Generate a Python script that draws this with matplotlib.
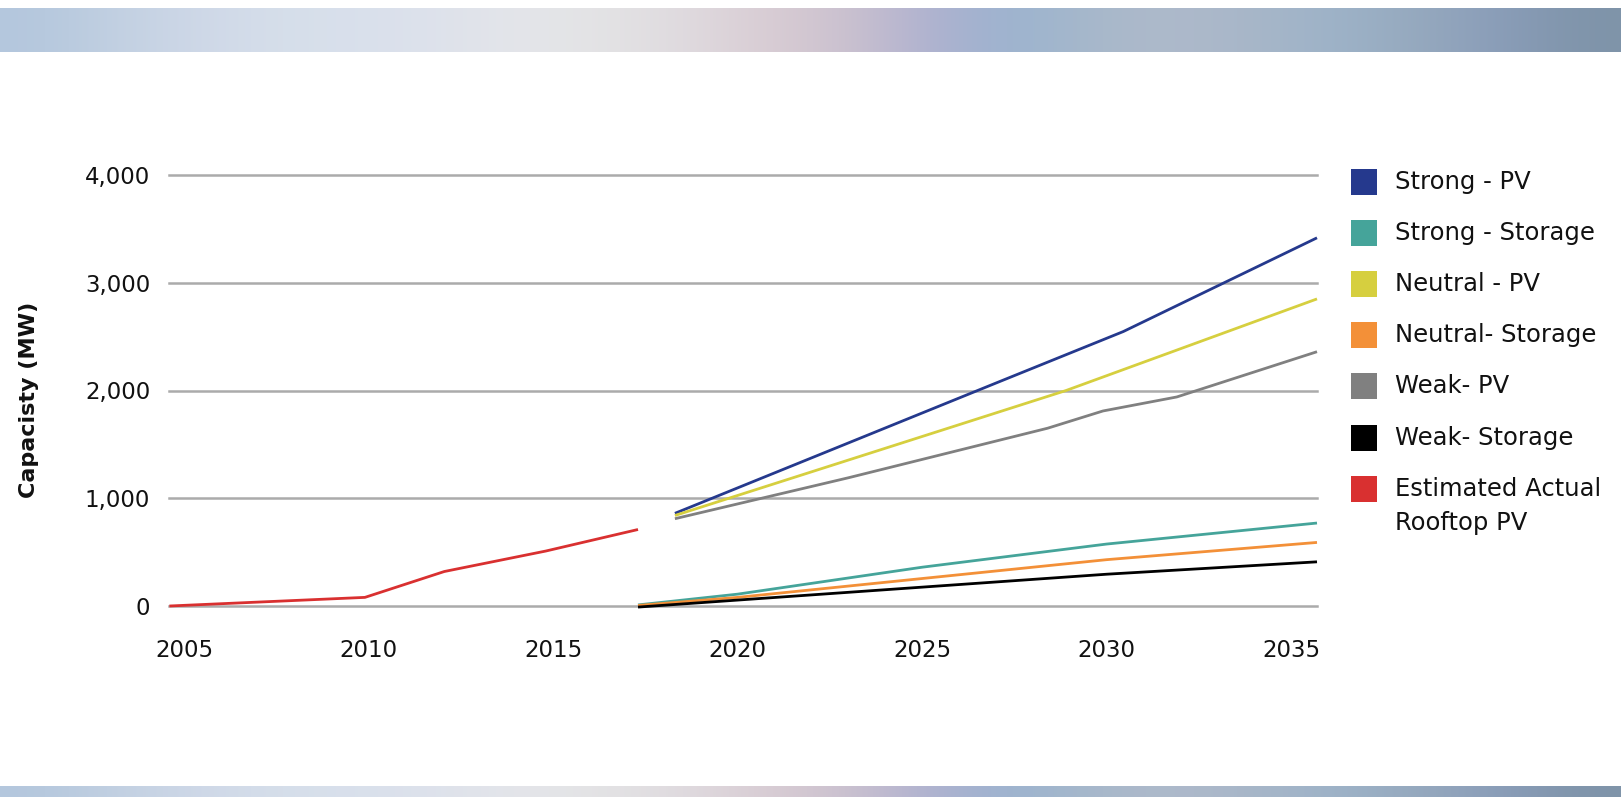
"""
Rooftop PV and storage capacity scenarios, 2005-2035.
"""
import numpy as np
import matplotlib as mpl
import matplotlib.pyplot as plt
from matplotlib.colors import to_rgb
from matplotlib.patches import Rectangle

mpl.rcParams.update({
    "font.family": ["DejaVu Sans"],
    "font.size": 16.5,
})

# ---- data ----
series_names = ["Strong - PV", "Strong - Storage", "Neutral - PV",
                "Neutral- Storage", "Weak- PV", "Weak- Storage",
                "Estimated Actual\nRooftop PV"]
series_colors = ["#25398d", "#45a49a", "#d6cf3f", "#f39038",
                 "#808080", "#000000", "#d93030"]

strong_pv_years = [2018.3, 2027.1, 2030.45, 2035.7]
strong_pv = [860, 2083, 2547, 3417]

neutral_pv_years = [2018.3, 2028.9, 2035.7]
neutral_pv = [840, 2000, 2850]

weak_pv_years = [2018.3, 2023.0, 2028.4, 2029.9, 2031.9, 2035.7]
weak_pv = [810, 1190, 1650, 1810, 1940, 2360]

storage_years = [2017.3, 2020, 2025, 2030, 2035.7]
strong_storage = [10, 110, 360, 575, 770]
neutral_storage = [5, 80, 255, 430, 590]
weak_storage = [-10, 55, 175, 295, 410]

actual_years = [2004.6, 2009.9, 2012.05, 2014.8, 2017.3]
actual_rooftop = [0, 80, 320, 510, 710]

x_ticks = [2005, 2010, 2015, 2020, 2025, 2030, 2035]
y_ticks = [0, 1000, 2000, 3000, 4000]

# decorative banner tiles (left -> right)
band_colors = ["#b4c7dd", "#c3d1e2", "#cfd8e8", "#d6dfea", "#d9e0ec",
               "#dee2eb", "#e5e6ea", "#e3e3e4", "#dfdadf", "#d9ccd3",
               "#cbc1cf", "#aeb0cf", "#9ab4d0", "#a8b8ca", "#afbacb",
               "#a7b6c8", "#9db3c9", "#96a9bd", "#8a9dba", "#7f94a9"]

W, H = 1621, 797
fig = plt.figure(figsize=(W / 100, H / 100), dpi=100)
fig.patch.set_facecolor("white")

# banners top and bottom
strip = np.array([[to_rgb(c) for c in band_colors]])
for y0, y1 in ((745, 789), (0, 11)):
    bax = fig.add_axes([0, y0 / H, 1, (y1 - y0) / H])
    bax.imshow(strip, aspect="auto", interpolation="bicubic")
    bax.set_axis_off()

# ---- main axes ----
ax = fig.add_axes([169 / W, 191 / H, 1148 / W, 431 / H])
for s in ax.spines.values():
    s.set_visible(False)

line_sets = [
    (strong_pv_years, strong_pv),
    (storage_years, strong_storage),
    (neutral_pv_years, neutral_pv),
    (storage_years, neutral_storage),
    (weak_pv_years, weak_pv),
    (storage_years, weak_storage),
    (actual_years, actual_rooftop),
]
for (xs, ys), col in zip(line_sets, series_colors):
    ax.plot(xs, ys, color=col, lw=2.0, clip_on=False, zorder=3,
            solid_capstyle="butt")

ax.set_xlim(2004.59, 2035.70)
ax.set_ylim(0, 4000)
ax.set_xticks(x_ticks)
ax.set_yticks(y_ticks)
ax.set_yticklabels([f"{v:,}" for v in y_ticks])
ax.tick_params(axis="both", length=0, labelsize=16.5, colors="#111111")
ax.tick_params(axis="y", pad=13.5)
ax.tick_params(axis="x", pad=24)
ax.grid(axis="y", color="#ababab", lw=1.8)
ax.grid(axis="x", visible=False)
ax.set_axisbelow(True)
for gl in ax.get_ygridlines():
    gl.set_clip_on(False)

fig.text(29 / W, 1 - 400 / H, "Capacisty (MW)", rotation=90,
         ha="center", va="center", fontsize=16, fontweight="bold",
         color="#111111")

# ---- legend, drawn by hand so the two-line entry keeps its square on top ----
row_y = 182
for name, col in zip(series_names, series_colors):
    fig.add_artist(Rectangle((1351 / W, 1 - (row_y + 13) / H), 26 / W, 26 / H,
                             transform=fig.transFigure, facecolor=col,
                             edgecolor="none"))
    fig.text(1395 / W, 1 - row_y / H, name.split("\n")[0], fontsize=17.5,
             ha="left", va="center", color="#111111")
    if "\n" in name:
        fig.text(1395 / W, 1 - (row_y + 34) / H, name.split("\n")[1],
                 fontsize=17.5, ha="left", va="center", color="#111111")
    row_y += 51.1

fig.savefig("out.png", dpi=100)
